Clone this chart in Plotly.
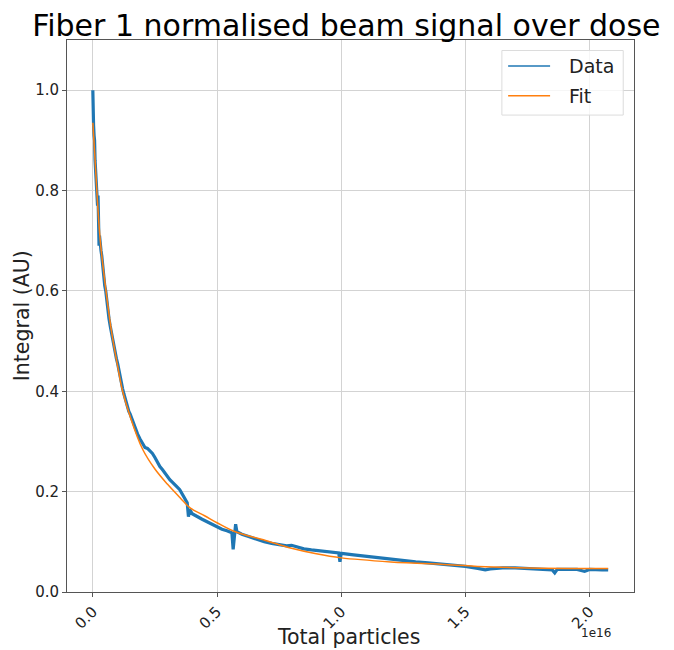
import numpy as np
import plotly.graph_objects as go

# values, x in units of 1e16 particles
data_x = [0.000, 0.001, 0.002, 0.003, 0.005, 0.007, 0.009, 0.011, 0.013, 0.015,
          0.017, 0.019, 0.021, 0.023, 0.025, 0.027, 0.029, 0.031, 0.033, 0.036,
          0.039, 0.042, 0.045, 0.048, 0.052, 0.056, 0.060, 0.065, 0.070, 0.075,
          0.080, 0.085, 0.090, 0.095, 0.100, 0.105, 0.110, 0.115, 0.120, 0.125,
          0.130, 0.135, 0.140, 0.145, 0.150, 0.160, 0.170, 0.180, 0.190, 0.200,
          0.210, 0.220, 0.230, 0.240, 0.250, 0.260, 0.270, 0.280, 0.290, 0.300,
          0.310, 0.320, 0.330, 0.340, 0.350, 0.360, 0.370, 0.380, 0.385, 0.390,
          0.400, 0.420, 0.440, 0.460, 0.480, 0.500, 0.520, 0.540, 0.560, 0.565,
          0.570, 0.575, 0.580, 0.600, 0.630, 0.660, 0.690, 0.720, 0.750, 0.780,
          0.800, 0.820, 0.850, 0.880, 0.910, 0.940, 0.970, 0.990, 0.995, 1.000,
          1.050, 1.100, 1.150, 1.200, 1.250, 1.300, 1.350, 1.400, 1.450, 1.500,
          1.550, 1.580, 1.600, 1.650, 1.700, 1.750, 1.800, 1.850, 1.860, 1.870,
          1.900, 1.950, 1.980, 2.000, 2.050, 2.075]
data_y = [1.000, 0.940, 0.970, 0.930, 0.910, 0.900, 0.860, 0.840, 0.820, 0.800,
          0.790, 0.770, 0.790, 0.720, 0.690, 0.710, 0.690, 0.700, 0.680, 0.670,
          0.650, 0.640, 0.620, 0.610, 0.600, 0.580, 0.560, 0.545, 0.530, 0.515,
          0.500, 0.490, 0.475, 0.465, 0.455, 0.440, 0.430, 0.415, 0.405, 0.395,
          0.385, 0.375, 0.370, 0.360, 0.355, 0.340, 0.325, 0.315, 0.305, 0.295,
          0.288, 0.286, 0.281, 0.276, 0.268, 0.258, 0.250, 0.244, 0.237, 0.230,
          0.224, 0.219, 0.213, 0.209, 0.204, 0.195, 0.186, 0.178, 0.150, 0.165,
          0.156, 0.150, 0.145, 0.140, 0.135, 0.129, 0.125, 0.122, 0.118, 0.085,
          0.118, 0.135, 0.120, 0.115, 0.110, 0.105, 0.100, 0.097, 0.094, 0.092,
          0.093, 0.090, 0.086, 0.084, 0.082, 0.080, 0.079, 0.078, 0.060, 0.077,
          0.074, 0.071, 0.068, 0.065, 0.062, 0.060, 0.058, 0.056, 0.054, 0.051,
          0.047, 0.044, 0.046, 0.048, 0.048, 0.047, 0.046, 0.044, 0.038, 0.045,
          0.045, 0.045, 0.041, 0.045, 0.044, 0.044]

fit_x = [0.000, 0.008, 0.016, 0.030, 0.048, 0.075, 0.100, 0.120, 0.150, 0.200,
         0.250, 0.300, 0.353, 0.393, 0.450, 0.500, 0.573, 0.687, 0.800, 0.900,
         1.000, 1.200, 1.450, 1.550, 1.750, 2.075]
fit_y = [0.935, 0.870, 0.800, 0.700, 0.620, 0.520, 0.450, 0.400, 0.350, 0.285,
         0.245, 0.215, 0.187, 0.167, 0.152, 0.138, 0.120, 0.104, 0.087, 0.076,
         0.068, 0.060, 0.054, 0.051, 0.048, 0.047]

x_ticks = [0.0, 0.5, 1.0, 1.5, 2.0]
y_ticks = [0.0, 0.2, 0.4, 0.6, 0.8, 1.0]

scale = 1e16
font = "DejaVu Sans, sans-serif"
blue = "#1f77b4"
orange = "#ff7f0e"

fig = go.Figure()
fig.add_trace(go.Scatter(x=np.array(data_x) * scale, y=data_y, mode="lines", name="Data",
                         line=dict(color=blue, width=3.2), showlegend=False))
fig.add_trace(go.Scatter(x=np.array(fit_x) * scale, y=fit_y, mode="lines", name="Fit",
                         line=dict(color=orange, width=1.5, shape="spline"), showlegend=False))

# page body has an 8px margin, so the figure is a bit smaller than the window
fig.update_layout(
    width=666, height=642,
    margin=dict(l=59, r=40, t=32, b=58, autoexpand=False),
    paper_bgcolor="white", plot_bgcolor="white",
    font=dict(family=font, color="#222222"),
    title=dict(text="Fiber 1 normalised beam signal over dose", x=0.508, xanchor="center",
               yref="container", y=0.972, yanchor="middle",
               font=dict(size=30, color="black")),
    showlegend=False,
)
fig.update_xaxes(
    range=[-0.104 * scale, 2.179 * scale], automargin=False,
    tickvals=[t * scale for t in x_ticks], ticktext=[f"{t:.1f}" for t in x_ticks],
    tickangle=-45, tickfont=dict(size=15),
    showgrid=True, gridcolor="#d3d3d3", gridwidth=1, zeroline=False,
    showline=True, linecolor="#555555", linewidth=1, mirror=True,
    ticks="outside", ticklen=4, tickcolor="#555555",
)
fig.update_yaxes(
    range=[0, 1.1], automargin=False,
    tickvals=y_ticks, ticktext=[f"{t:.1f}" for t in y_ticks],
    tickfont=dict(size=15),
    showgrid=True, gridcolor="#d3d3d3", gridwidth=1, zeroline=False,
    showline=True, linecolor="#555555", linewidth=1, mirror=True,
    ticks="outside", ticklen=4, tickcolor="#555555",
)

# matplotlib-like legend box, drawn by hand
fig.add_shape(type="rect", xref="paper", yref="paper", x0=0.767, x1=0.981, y0=0.864, y1=0.981,
              line=dict(color="#dcdcdc", width=1), fillcolor="rgba(255,255,255,0.8)")
for name, color, yy in [("Data", blue, 0.953), ("Fit", orange, 0.899)]:
    fig.add_shape(type="line", xref="paper", yref="paper", x0=0.778, x1=0.852, y0=yy, y1=yy,
                  line=dict(color=color, width=1.5))
    fig.add_annotation(text=name, xref="paper", yref="paper", x=0.881, y=yy,
                       xanchor="left", yanchor="middle", showarrow=False,
                       font=dict(size=19, color="#222222"))

fig.add_annotation(text="Total particles", xref="paper", yref="paper", x=0.496, y=-0.081,
                   xanchor="center", yanchor="middle", showarrow=False,
                   font=dict(size=20.5, color="#222222"))
fig.add_annotation(text="Integral (AU)", xref="paper", yref="paper", x=-0.079, y=0.5,
                   xanchor="center", yanchor="middle", showarrow=False, textangle=-90,
                   font=dict(size=20.5, color="#222222"))
fig.add_annotation(text="1e16", xref="paper", yref="paper", x=0.933, y=-0.074,
                   xanchor="center", yanchor="middle", showarrow=False,
                   font=dict(size=12, color="#222222"))

fig.write_html("out.html")
